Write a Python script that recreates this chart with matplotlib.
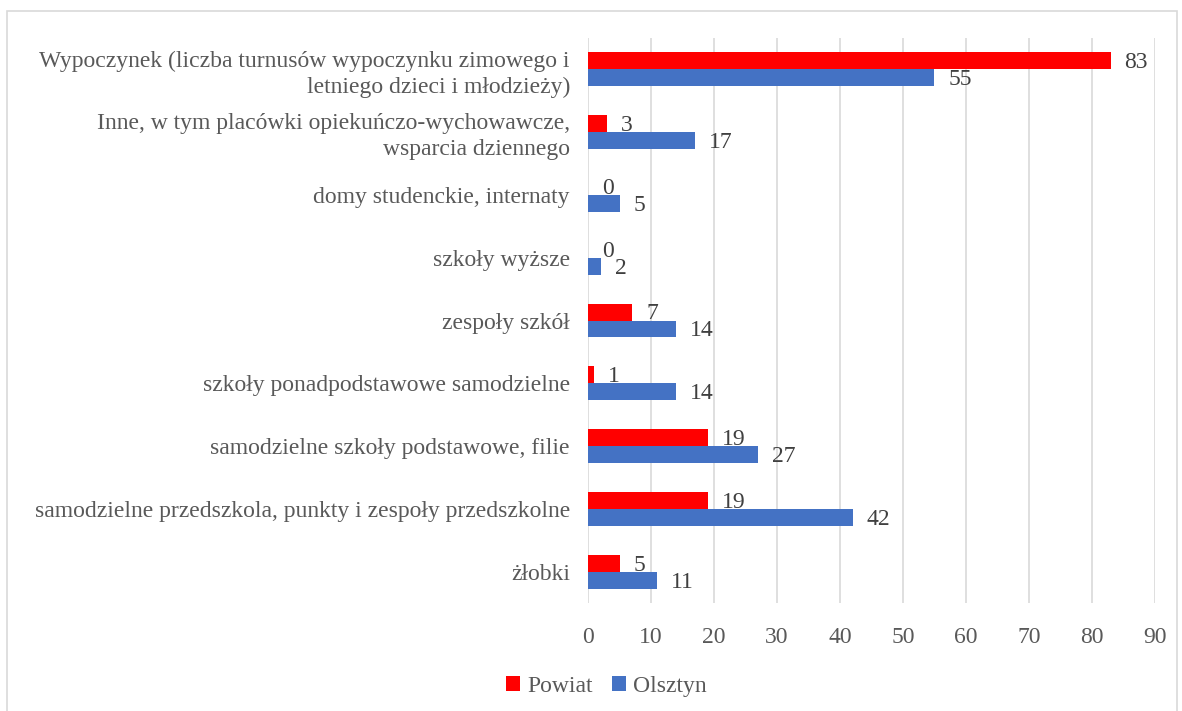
import numpy as np
import matplotlib
matplotlib.use("Agg")
import matplotlib.pyplot as plt
from matplotlib.patches import Rectangle

categories = [
    "Wypoczynek (liczba turnusów wypoczynku zimowego i\nletniego dzieci i młodzieży)",
    "Inne, w tym placówki opiekuńczo-wychowawcze,\nwsparcia dziennego",
    "domy studenckie, internaty",
    "szkoły wyższe",
    "zespoły szkół",
    "szkoły ponadpodstawowe samodzielne",
    "samodzielne szkoły podstawowe, filie",
    "samodzielne przedszkola, punkty i zespoły przedszkolne",
    "żłobki",
]
powiat = [83, 3, 0, 0, 7, 1, 19, 19, 5]
olsztyn = [55, 17, 5, 2, 14, 14, 27, 42, 11]

plt.rcParams["font.family"] = ["Liberation Serif", "DejaVu Serif"]

fig = plt.figure(figsize=(11.82, 7.11), dpi=100)
ax = fig.add_axes([0.4975, 0.1513, 0.4795, 0.7958])

n = len(categories)
y = np.arange(n)
h = 0.27
ax.barh(y - h / 2, powiat, height=h, color="#FF0000", label="Powiat", zorder=3)
ax.barh(y + h / 2, olsztyn, height=h, color="#4472C4", label="Olsztyn", zorder=3)

# etykiety wartości przy końcach słupków
for i in range(n):
    ax.annotate(str(powiat[i]), (powiat[i], y[i] - h / 2 + 0.03), xytext=(10, 0),
                textcoords="offset points", va="center", ha="left",
                fontsize=17, color="#404040", zorder=4)
    ax.annotate(str(olsztyn[i]), (olsztyn[i], y[i] + h / 2 + 0.03), xytext=(10, 0),
                textcoords="offset points", va="center", ha="left",
                fontsize=17, color="#404040", zorder=4)

ax.set_ylim(n - 0.5, -0.5)
ax.set_xlim(0, 90)
ax.set_xticks(range(0, 91, 10))
ax.set_yticks(y)
ax.set_yticklabels(categories, fontsize=17, color="#595959", linespacing=1.3)
ax.tick_params(axis="x", labelsize=17, labelcolor="#595959", length=0, pad=17)
ax.tick_params(axis="y", length=0, pad=13)
ax.grid(axis="x", color="#D9D9D9", linewidth=1.2, zorder=0)
for s in ax.spines.values():
    s.set_visible(False)

fig.legend(loc="center", bbox_to_anchor=(0.513, 0.035), ncol=2, frameon=False,
           fontsize=17, labelcolor="#595959", handlelength=0.6, handleheight=0.6,
           handletextpad=0.3, columnspacing=0.8)

fig.add_artist(Rectangle((0.006, -0.01), 0.99, 0.995, transform=fig.transFigure,
                         fill=False, edgecolor="#D9D9D9", linewidth=1.2))

fig.savefig("out.png", dpi=100)
